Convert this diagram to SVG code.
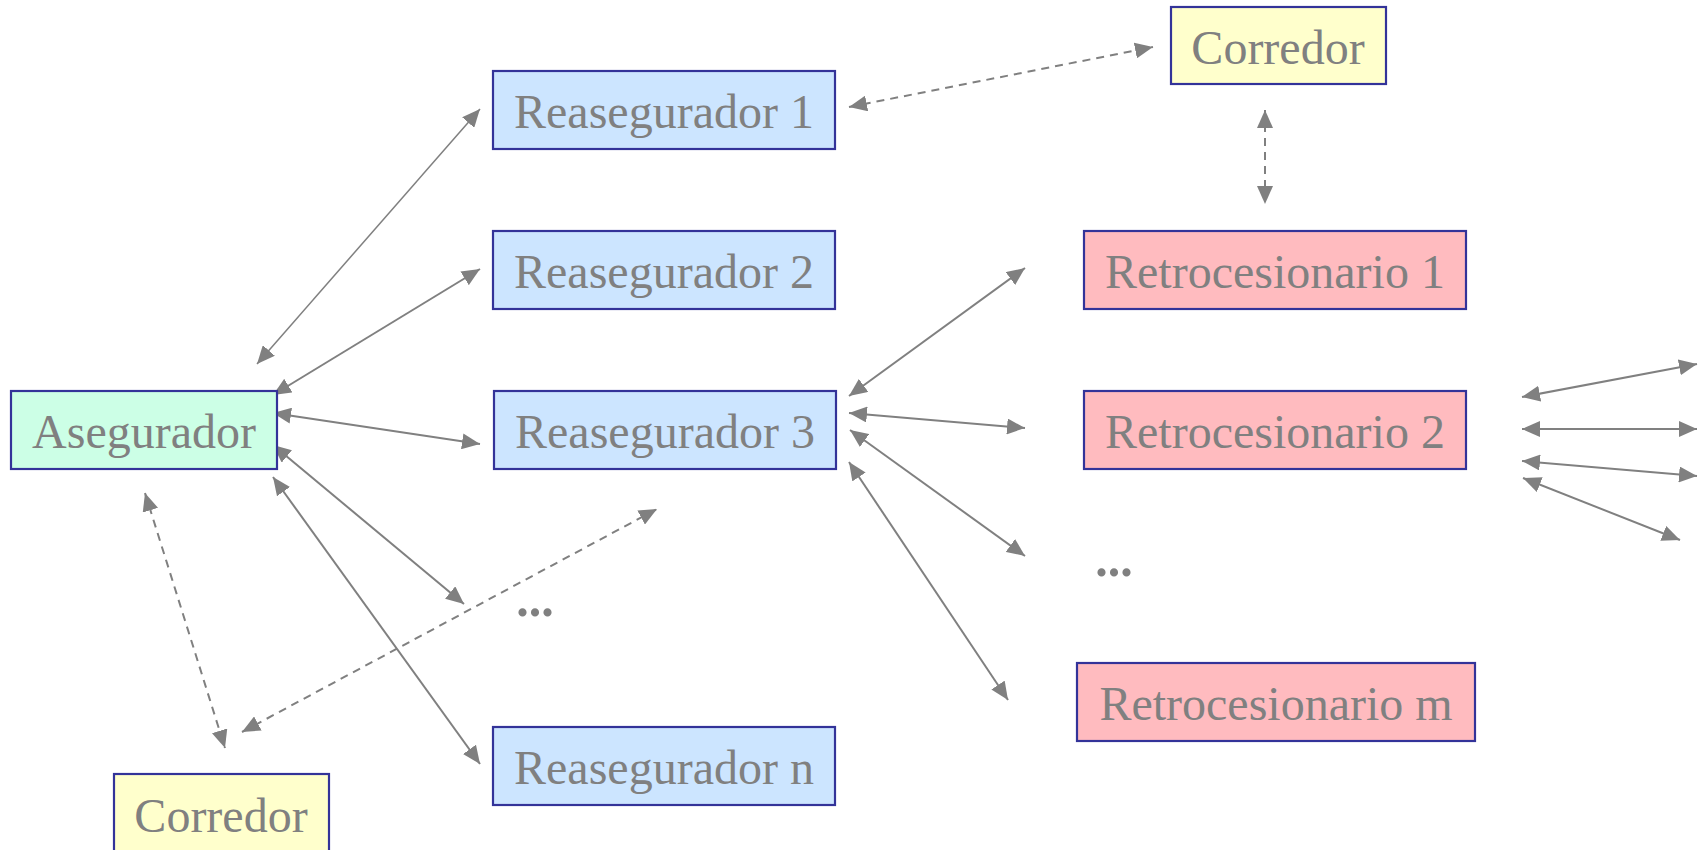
<svg xmlns="http://www.w3.org/2000/svg" width="1700" height="850" viewBox="0 0 1700 850">
  <defs>
    <marker id="head" markerUnits="userSpaceOnUse" markerWidth="19" markerHeight="16" refX="18" refY="8" orient="auto-start-reverse">
      <path d="M0,0 L18,8 L0,16 z" fill="#808080"/>
    </marker>
  </defs>
  <style>
    .box { stroke: #333399; stroke-width: 2.2; }
    .aseg { fill: #CCFFE6; }
    .rea { fill: #CCE5FF; }
    .corr { fill: #FFFFCC; }
    .retro { fill: #FFBBBF; }
    .lbl { font-family: "Liberation Serif", "Times New Roman", serif; font-size: 48px; fill: #808080; text-anchor: middle; }
    .dots { font-family: "Liberation Serif", "Times New Roman", serif; font-size: 50px; font-weight: bold; fill: #808080; text-anchor: middle; }
    .link { stroke: #808080; stroke-width: 2; fill: none; marker-start: url(#head); marker-end: url(#head); }
    .thin { stroke-width: 1.5; }
    .dash { stroke-dasharray: 8 6; }
  </style>

  <rect width="1700" height="850" fill="#ffffff"/>

  <!-- connectors -->
  <g id="connectors">
    <!-- Asegurador to reinsurers -->
    <line class="link thin" x1="257" y1="364" x2="480" y2="109"/>
    <line class="link" x1="273" y1="395" x2="480" y2="269"/>
    <line class="link" x1="273" y1="413" x2="480" y2="444"/>
    <line class="link" x1="273" y1="445" x2="464" y2="604"/>
    <line class="link" x1="273" y1="477" x2="480" y2="764"/>
    <!-- brokers (dashed) -->
    <line class="link dash" x1="145" y1="493" x2="225" y2="748"/>
    <line class="link dash" x1="242" y1="732" x2="657" y2="509"/>
    <line class="link dash" x1="849" y1="107" x2="1153" y2="47"/>
    <line class="link dash" x1="1265" y1="110" x2="1265" y2="204"/>
    <!-- Reasegurador 3 to retrocessionaires -->
    <line class="link" x1="849" y1="396" x2="1025" y2="268"/>
    <line class="link" x1="849" y1="413" x2="1025" y2="428"/>
    <line class="link" x1="850" y1="430" x2="1025" y2="556"/>
    <line class="link" x1="849" y1="462" x2="1008" y2="700"/>
    <!-- onward links -->
    <line class="link" x1="1522" y1="397" x2="1697" y2="364"/>
    <line class="link" x1="1522" y1="429" x2="1697" y2="429"/>
    <line class="link" x1="1522" y1="461" x2="1697" y2="476"/>
    <line class="link" x1="1523" y1="478" x2="1680" y2="540"/>
  </g>

  <!-- nodes -->
  <g id="asegurador">
    <rect class="box aseg" x="11" y="391" width="266" height="78"/>
    <text class="lbl" x="144" y="448">Asegurador</text>
  </g>
  <g id="reasegurador-1">
    <rect class="box rea" x="493" y="71" width="342" height="78"/>
    <text class="lbl" x="664" y="128">Reasegurador 1</text>
  </g>
  <g id="reasegurador-2">
    <rect class="box rea" x="493" y="231" width="342" height="78"/>
    <text class="lbl" x="664" y="288">Reasegurador 2</text>
  </g>
  <g id="reasegurador-3">
    <rect class="box rea" x="494" y="391" width="342" height="78"/>
    <text class="lbl" x="665" y="448">Reasegurador 3</text>
  </g>
  <g id="reasegurador-n">
    <rect class="box rea" x="493" y="727" width="342" height="78"/>
    <text class="lbl" x="664" y="784">Reasegurador n</text>
  </g>
  <g id="corredor-top">
    <rect class="box corr" x="1171" y="7" width="215" height="77"/>
    <text class="lbl" x="1278" y="64">Corredor</text>
  </g>
  <g id="corredor-bottom">
    <rect class="box corr" x="114" y="774" width="215" height="90"/>
    <text class="lbl" x="221" y="832">Corredor</text>
  </g>
  <g id="retrocesionario-1">
    <rect class="box retro" x="1084" y="231" width="382" height="78"/>
    <text class="lbl" x="1275" y="288">Retrocesionario 1</text>
  </g>
  <g id="retrocesionario-2">
    <rect class="box retro" x="1084" y="391" width="382" height="78"/>
    <text class="lbl" x="1275" y="448">Retrocesionario 2</text>
  </g>
  <g id="retrocesionario-m">
    <rect class="box retro" x="1077" y="663" width="398" height="78"/>
    <text class="lbl" x="1276" y="720">Retrocesionario m</text>
  </g>
  <g id="ellipsis-reaseguradores">
    <text class="dots" x="535" y="616">...</text>
  </g>
  <g id="ellipsis-retrocesionarios">
    <text class="dots" x="1114" y="576">...</text>
  </g>
</svg>
